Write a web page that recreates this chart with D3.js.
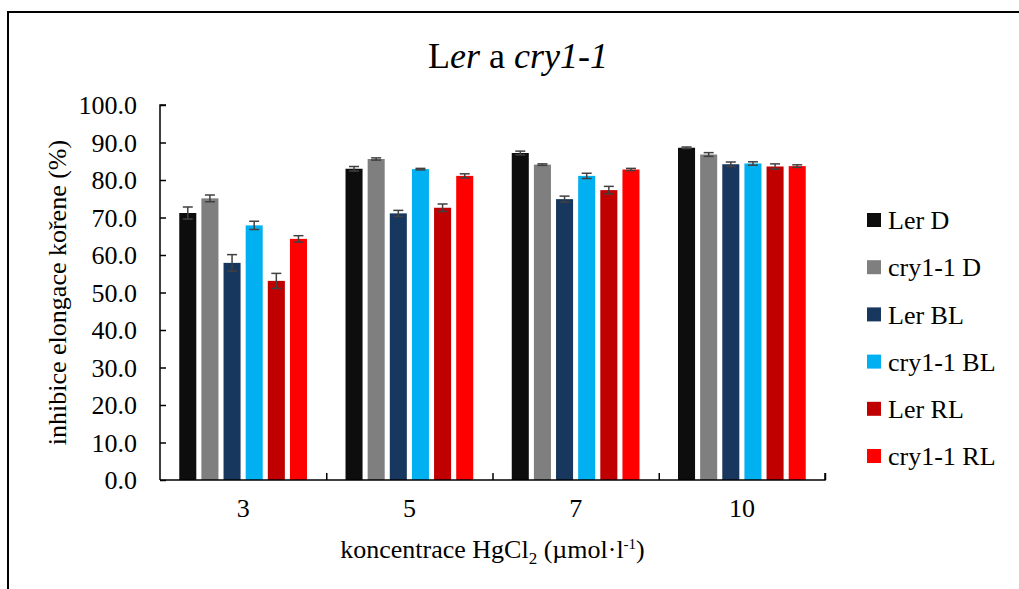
<!DOCTYPE html>
<html>
<head>
<meta charset="utf-8">
<script src="https://cdn.jsdelivr.net/npm/d3@7"></script>
<style>
  body { margin: 0; background: #fff; }
  svg text { font-family: "Liberation Serif", "Times New Roman", serif; fill: #000; }
</style>
</head>
<body>
<div id="chart"></div>
<script>
// koncentrace HgCl2
var categories = ["3", "5", "7", "10"];
var seriesNames = ["Ler D", "cry1-1 D", "Ler BL", "cry1-1 BL", "Ler RL", "cry1-1 RL"];
var seriesColors = ["#0d0d0d", "#7f7f7f", "#17375e", "#00b0f0", "#c00000", "#ff0000"];

// inhibice elongace (%) per series, one value per category
var lerD      = [71.2, 83.0, 87.2, 88.6];
var cryD      = [75.1, 85.6, 84.1, 86.8];
var lerBL     = [57.9, 71.1, 74.9, 84.2];
var cryBL     = [67.9, 82.9, 81.1, 84.4];
var lerRL     = [53.1, 72.6, 77.3, 83.6];
var cryRL     = [64.3, 81.1, 82.8, 83.7];

// error (+/-)
var lerD_err  = [1.6, 0.6, 0.5, 0.2];
var cryD_err  = [0.9, 0.3, 0.2, 0.5];
var lerBL_err = [2.2, 0.8, 0.8, 0.6];
var cryBL_err = [1.1, 0.2, 0.7, 0.45];
var lerRL_err = [2.0, 1.0, 1.0, 0.7];
var cryRL_err = [0.85, 0.55, 0.3, 0.35];

var yTicks = [0, 10, 20, 30, 40, 50, 60, 70, 80, 90, 100];

var values = [lerD, cryD, lerBL, cryBL, lerRL, cryRL];
var errors = [lerD_err, cryD_err, lerBL_err, cryBL_err, lerRL_err, cryRL_err];

var width = 1019, height = 589;
var plotLeft = 160, plotRight = 825, plotTop = 105, plotBottom = 480;

var svg = d3.select("#chart").append("svg")
    .attr("width", width)
    .attr("height", height);

// ramecek
svg.append("rect")
    .attr("x", 8).attr("y", 12)
    .attr("width", 1100).attr("height", 700)
    .attr("fill", "none")
    .attr("stroke", "#000")
    .attr("stroke-width", 2);

var x0 = d3.scaleBand().domain(categories).range([plotLeft, plotRight]).padding(0);
var x1 = d3.scaleBand().domain(seriesNames).range([0, x0.bandwidth()])
    .paddingInner(0.23).paddingOuter(0.87);
var y = d3.scaleLinear().domain([0, 100]).range([plotBottom, plotTop]);

// data rows
var rows = [];
categories.forEach(function (c, ci) {
    seriesNames.forEach(function (s, si) {
        rows.push({ cat: c, series: s, si: si, value: values[si][ci], err: errors[si][ci] });
    });
});

// sloupce
svg.append("g").selectAll("rect")
    .data(rows)
    .enter().append("rect")
    .attr("x", d => x0(d.cat) + x1(d.series))
    .attr("y", d => y(d.value))
    .attr("width", x1.bandwidth())
    .attr("height", d => y(0) - y(d.value))
    .attr("fill", d => seriesColors[d.si]);

// chybove usecky
var eb = svg.append("g").attr("stroke", "#404040").attr("stroke-width", 1.5);
rows.forEach(function (d) {
    var cx = x0(d.cat) + x1(d.series) + x1.bandwidth() / 2;
    var y1 = y(d.value + d.err), y2 = y(d.value - d.err);
    eb.append("line").attr("x1", cx).attr("x2", cx).attr("y1", y1).attr("y2", y2);
    eb.append("line").attr("x1", cx - 5).attr("x2", cx + 5).attr("y1", y1).attr("y2", y1);
    eb.append("line").attr("x1", cx - 5).attr("x2", cx + 5).attr("y1", y2).attr("y2", y2);
});

// osa y
var yAxis = svg.append("g")
    .attr("transform", "translate(" + plotLeft + ",0)")
    .call(d3.axisRight(y).tickValues(yTicks).tickSize(6).tickFormat(""));
yAxis.select(".domain").attr("stroke", "#000").attr("stroke-width", 1.5).attr("d", "M6," + plotTop + "H0V" + plotBottom);
yAxis.selectAll(".tick line").attr("stroke", "#000").attr("stroke-width", 1.5);

svg.append("g").selectAll("text")
    .data(yTicks)
    .enter().append("text")
    .attr("x", 137)
    .attr("y", d => y(d))
    .attr("dy", "0.35em")
    .attr("text-anchor", "end")
    .style("font-size", "26px")
    .text(d => d3.format(".1f")(d));

// osa x
var xTickScale = d3.scaleLinear().domain([0, categories.length]).range([plotLeft, plotRight]);
var xAxis = svg.append("g")
    .attr("transform", "translate(0," + plotBottom + ")")
    .call(d3.axisTop(xTickScale).tickValues(d3.range(1, categories.length + 1)).tickSize(7).tickFormat(""));
xAxis.select(".domain").attr("stroke", "#000").attr("stroke-width", 1.5).attr("d", "M" + plotLeft + ",0H" + plotRight + "V-7");
xAxis.selectAll(".tick line").attr("stroke", "#000").attr("stroke-width", 1.5);

svg.append("g").selectAll("text")
    .data(categories)
    .enter().append("text")
    .attr("x", d => x0(d) + x0.bandwidth() / 2)
    .attr("y", 517)
    .attr("text-anchor", "middle")
    .style("font-size", "26px")
    .text(d => d);

// titulek
var title = svg.append("text")
    .attr("x", 518).attr("y", 68)
    .attr("text-anchor", "middle")
    .style("font-size", "36px");
title.append("tspan").text("L");
title.append("tspan").style("font-style", "italic").text("er");
title.append("tspan").text(" a ");
title.append("tspan").style("font-style", "italic").text("cry1-1");

// popisky os
svg.append("text")
    .attr("transform", "translate(66," + ((plotTop + plotBottom) / 2) + ") rotate(-90)")
    .attr("text-anchor", "middle")
    .style("font-size", "26px")
    .text("inhibice elongace kořene (%)");

var xt = svg.append("text")
    .attr("x", (plotLeft + plotRight) / 2).attr("y", 558)
    .attr("text-anchor", "middle")
    .style("font-size", "26px");
xt.append("tspan").text("koncentrace HgCl");
xt.append("tspan").attr("dy", 6).style("font-size", "17px").text("2");
xt.append("tspan").attr("dy", -6).text(" (µmol·l");
xt.append("tspan").attr("dy", -9).style("font-size", "15px").text("-1");
xt.append("tspan").attr("dy", 9).text(")");

// legenda
var legend = svg.append("g").attr("transform", "translate(867,220)");
var li = legend.selectAll("g")
    .data(seriesNames)
    .enter().append("g")
    .attr("transform", (d, i) => "translate(0," + i * 47.2 + ")");
li.append("rect")
    .attr("x", 0).attr("y", -7)
    .attr("width", 14).attr("height", 14)
    .attr("fill", (d, i) => seriesColors[i]);
li.append("text")
    .attr("x", 21).attr("y", 0)
    .attr("dy", "0.35em")
    .style("font-size", "26px")
    .text(d => d);
</script>
</body>
</html>
